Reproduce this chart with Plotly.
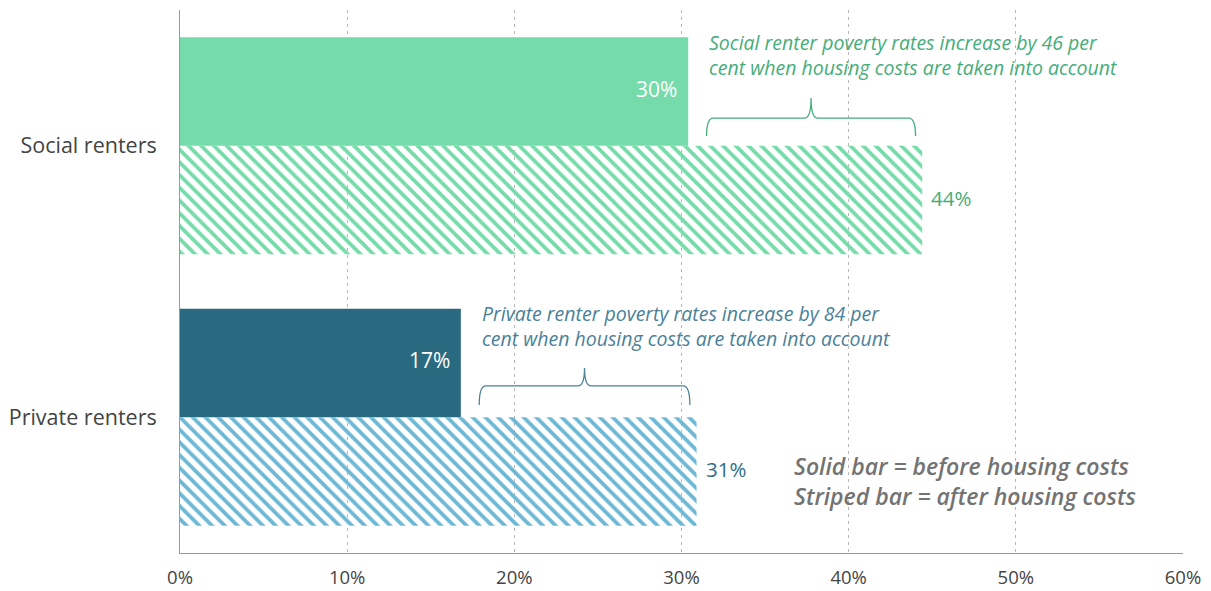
import plotly.graph_objects as go

# Poverty rates by tenure, before and after housing costs (%)
categories = ["Social renters", "Private renters"]
before_hc = [30.4, 16.8]
after_hc = [44.4, 30.9]

solid_colors = ["#76dbaa", "#2a6a80"]
stripe_colors = ["#76dbaa", "#6db8d4"]
outside_label_colors = ["#45ad7a", "#2e6e88"]
note_colors = ["#45ad7a", "#4a8199"]
notes = [
    "Social renter poverty rates increase by 46 per<br>cent when housing costs are taken into account",
    "Private renter poverty rates increase by 84 per<br>cent when housing costs are taken into account",
]
x_ticks = [0, 10, 20, 30, 40, 50, 60]
x_ticklabels = [f"{t}%" for t in x_ticks]

FONT = "Open Sans"

fig = go.Figure()
fig.add_trace(go.Bar(
    y=categories, x=before_hc, orientation="h", name="Before housing costs",
    marker=dict(color=solid_colors, line=dict(width=0)),
    hoverinfo="skip",
))
fig.add_trace(go.Bar(
    y=categories, x=after_hc, orientation="h", name="After housing costs",
    marker=dict(color=stripe_colors, line=dict(width=0),
                pattern=dict(shape="\\", size=9, solidity=0.42,
                             bgcolor="white", fillmode="replace")),
    hoverinfo="skip",
))

annotations = []
shapes = []
# paper-y positions of brace and note for each category
brace_y = [(0.801, 0.768, 0.838), (0.3076, 0.2726, 0.3407)]
note_y = [0.968, 0.47]
for i, cat in enumerate(categories):
    # value inside the solid bar
    annotations.append(dict(
        x=before_hc[i], y=cat, yshift=57, xref="x", yref="y",
        text=f"{before_hc[i]:.0f}%", showarrow=False, xanchor="right",
        xshift=-9, font=dict(family=FONT, size=21, color="white"),
    ))
    # value beyond the striped bar
    annotations.append(dict(
        x=after_hc[i], y=cat, yshift=-52, xref="x", yref="y",
        text=f"{after_hc[i]:.0f}%", showarrow=False, xanchor="left",
        xshift=7, font=dict(family=FONT, size=20.5, color=outside_label_colors[i]),
    ))
    # brace spanning the increase
    xl = before_hc[i] + 1.1
    xr = after_hc[i] - 0.4
    xc = (xl + xr) / 2
    yh, yb, yp = brace_y[i]
    r = 0.4
    path = (f"M {xl},{yb} Q {xl},{yh} {xl + r},{yh} L {xc - r},{yh} "
            f"Q {xc},{yh} {xc},{yp} Q {xc},{yh} {xc + r},{yh} "
            f"L {xr - r},{yh} Q {xr},{yh} {xr},{yb}")
    shapes.append(dict(type="path", path=path, xref="x", yref="paper",
                       line=dict(color=note_colors[i], width=1.3)))
    annotations.append(dict(
        x=xl + 0.05, y=note_y[i], xref="x", yref="paper", text=notes[i],
        showarrow=False, xanchor="left", yanchor="top", align="left",
        font=dict(family=FONT, size=19.5, color=note_colors[i], style="italic"),
    ))

annotations.append(dict(
    x=36.6, y=0.133, xref="x", yref="paper",
    text="Solid bar = before housing costs<br>Striped bar = after housing costs",
    showarrow=False, xanchor="left", yanchor="middle", align="left",
    font=dict(family=FONT, size=23, color="#737373", style="italic", weight=600),
))

fig.update_layout(
    width=1211, height=591,
    margin=dict(l=180, r=28, t=10, b=38),
    paper_bgcolor="white", plot_bgcolor="white",
    barmode="group", bargap=0.2, bargroupgap=0,
    showlegend=False,
    annotations=annotations, shapes=shapes,
    font=dict(family=FONT, color="#444444"),
)
fig.update_xaxes(
    range=[0, 60], tickvals=x_ticks, ticktext=x_ticklabels,
    showgrid=True, gridcolor="#b8b8b8", gridwidth=1, griddash="3px,4px",
    zeroline=False, showline=True, linecolor="#999999", linewidth=1,
    ticks="outside", ticklen=0, ticklabelstandoff=8, automargin=False,
    tickfont=dict(family=FONT, size=18.5, color="#444444"),
)
fig.update_yaxes(
    autorange="reversed", showgrid=False, zeroline=False,
    showline=True, linecolor="#999999", linewidth=1,
    ticks="outside", ticklen=0, ticklabelstandoff=18, automargin=False,
    tickfont=dict(family=FONT, size=21.5, color="#444444"),
)

fig.write_html("out.html")
